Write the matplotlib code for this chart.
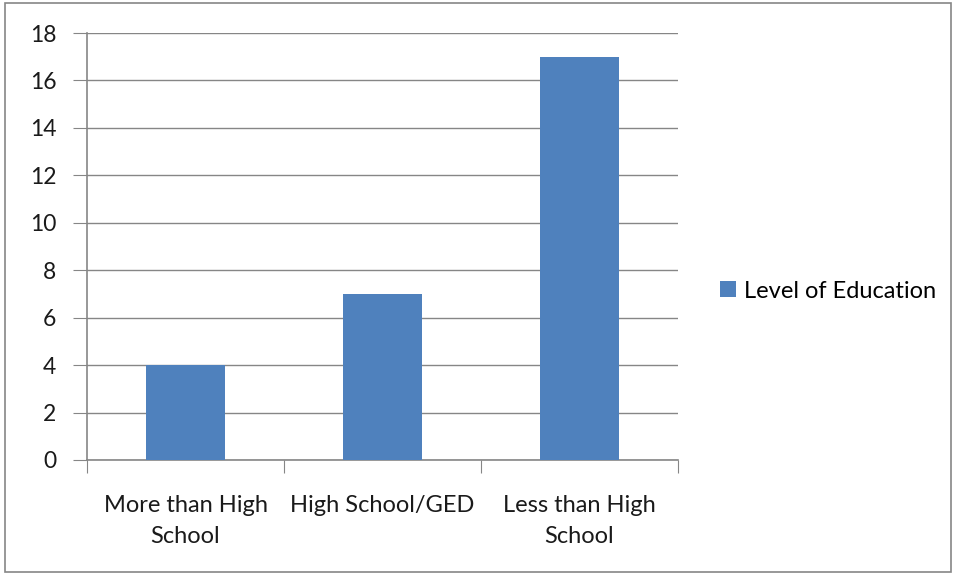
import matplotlib.pyplot as plt
from matplotlib.patches import Rectangle

plt.rcParams['font.family'] = ['Lato', 'DejaVu Sans']

categories = ['More than High\nSchool', 'High School/GED', 'Less than High\nSchool']
values = [4, 7, 17]
series_name = 'Level of Education'

fig = plt.figure(figsize=(9.56, 5.75), dpi=100)
# outer chart border
fig.patches.append(Rectangle((0.005, 0.005), 0.99, 0.99, transform=fig.transFigure,
                             fill=False, edgecolor='#868686', linewidth=1.2))

ax = fig.add_axes([87 / 956, 1 - 460 / 575, (678 - 87) / 956, (460 - 33) / 575])

x = range(len(categories))
ax.bar(x, values, width=0.4, color='#4F81BD', label=series_name, zorder=3)

ax.set_xlim(-0.5, 2.5)
ax.set_ylim(0, 18)
ax.set_yticks(range(0, 19, 2))
ax.yaxis.grid(True, color='#868686', linewidth=1)
ax.set_axisbelow(True)

ax.set_xticks([-0.5, 0.5, 1.5, 2.5])
ax.set_xticklabels([])
ax.set_xticks(list(x), minor=True)
ax.set_xticklabels(categories, minor=True, fontsize=17, color='#1a1a1a', linespacing=1.6)
ax.tick_params(axis='x', which='major', length=9, color='#868686', direction='out')
ax.tick_params(axis='x', which='minor', length=0, pad=25)
ax.tick_params(axis='y', length=10, color='#868686', labelsize=16.5, labelcolor='#1a1a1a', pad=12)

for side in ['top', 'right']:
    ax.spines[side].set_visible(False)
for side in ['left', 'bottom']:
    ax.spines[side].set_color('#868686')
    ax.spines[side].set_linewidth(1.2)

fig.legend(loc='center left', bbox_to_anchor=(699 / 956, 1 - 291 / 575), frameon=False,
           fontsize=17, handlelength=0.65, handleheight=0.65, handletextpad=0.35)

fig.savefig('out.png', dpi=100)
